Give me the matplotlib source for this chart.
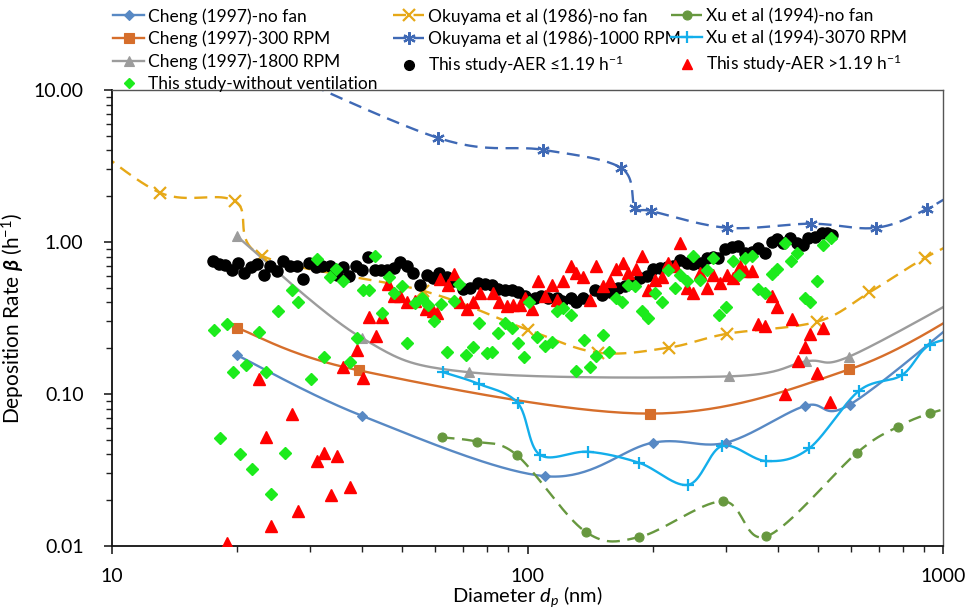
import numpy as np
import matplotlib
matplotlib.use("Agg")
import matplotlib.pyplot as plt
from matplotlib.lines import Line2D
from matplotlib.ticker import LogLocator, FuncFormatter, NullFormatter

FONT = "Lato"
plt.rcParams['font.family'] = [FONT, 'DejaVu Sans']
plt.rcParams['mathtext.fontset'] = 'custom'
plt.rcParams['mathtext.rm'] = FONT
plt.rcParams['mathtext.it'] = FONT + ':italic'
plt.rcParams['mathtext.bf'] = FONT + ':bold'
if 'mathtext.bfit' in plt.rcParams:
    plt.rcParams['mathtext.bfit'] = FONT + ':italic:bold'

# ---- literature curves (diameter nm, beta 1/h) ----
cheng_nf_d = [20, 39.9, 110, 200, 300, 466, 596, 1200]
cheng_nf_b = [0.18, 0.072, 0.0288, 0.0478, 0.0478, 0.0836, 0.085, 0.384]
cheng_300_d = [20, 39.3, 197, 594, 1200]
cheng_300_b = [0.272, 0.143, 0.0743, 0.145, 0.39]
cheng_1800_d = [20, 39.9, 72.4, 305, 468, 594, 1200]
cheng_1800_b = [1.087, 0.234, 0.139, 0.1306, 0.164, 0.176, 0.49]
oku_nf_d = [8, 13.05, 19.8, 23.0, 56.0, 100, 148, 219, 302, 498, 665, 905, 1200]
oku_nf_b = [5.5, 2.11, 1.85, 0.81, 0.478, 0.265, 0.187, 0.202, 0.249, 0.299, 0.466, 0.787, 1.15]
oku_1000_d = [20, 60.9, 109, 168, 181.5, 198, 302, 481, 690, 915, 1200]
oku_1000_b = [18, 4.84, 4.04, 3.07, 1.68, 1.60, 1.24, 1.32, 1.24, 1.65, 2.6]
xu_nf_d = [62.1, 75.5, 94.2, 138, 186, 295, 376, 621, 778, 930, 1200]
xu_nf_b = [0.0519, 0.0486, 0.0397, 0.0124, 0.01146, 0.0197, 0.01156, 0.0411, 0.0607, 0.0746, 0.09]
xu_3070_d = [62.7, 76.4, 94.8, 107, 140, 186, 244, 294, 376, 476, 628, 796, 931, 1200]
xu_3070_b = [0.139, 0.1164, 0.087, 0.0399, 0.0417, 0.0352, 0.0253, 0.0455, 0.0362, 0.0438, 0.105, 0.133, 0.211, 0.245]

# ---- this study (diameter nm, beta 1/h) ----
aer_low = [(17.5, 0.75), (18.1, 0.72), (18.7, 0.71), (19.4, 0.65), (20.1, 0.73), (20.8, 0.63),
           (21.6, 0.68), (22.3, 0.72), (23.2, 0.61), (24.0, 0.69), (24.9, 0.64), (25.8, 0.75),
           (26.8, 0.69), (27.9, 0.69), (28.8, 0.57), (29.8, 0.73), (31.0, 0.68), (32.0, 0.70),
           (33.5, 0.70), (34.8, 0.61), (36.0, 0.68), (37.2, 0.60), (38.6, 0.69), (40.0, 0.65),
           (41.3, 0.80), (43.0, 0.65), (44.4, 0.65), (45.9, 0.65), (47.7, 0.67), (49.3, 0.74),
           (51.3, 0.70), (53.0, 0.63), (55.1, 0.52), (57.3, 0.61), (59.3, 0.58), (61.3, 0.63),
           (64.0, 0.59), (66.2, 0.55), (70.0, 0.49), (72.7, 0.50), (76.1, 0.54), (79.1, 0.53),
           (82.2, 0.52), (85.0, 0.49), (88.3, 0.48), (91.8, 0.48), (94.9, 0.47), (98.6, 0.44),
           (104, 0.43), (108, 0.44), (112, 0.43), (118, 0.43), (121, 0.41), (127, 0.43),
           (131, 0.405), (136, 0.43), (145, 0.485), (151, 0.45), (158, 0.47), (165, 0.50),
           (172, 0.51), (178, 0.54), (187, 0.58), (194, 0.60), (201, 0.66), (208, 0.67),
           (217, 0.68), (224, 0.70), (233, 0.76), (242, 0.73), (250, 0.72), (260, 0.73),
           (270, 0.79), (279, 0.80), (287, 0.79), (299, 0.90), (310, 0.93), (321, 0.94),
           (334, 0.85), (347, 0.86), (359, 0.92), (373, 0.85), (388, 1.00), (398, 1.05),
           (412, 0.99), (428, 1.06), (445, 0.99), (461, 0.96), (473, 1.06), (492, 1.08),
           (512, 1.15), (526, 1.15), (541, 1.12)]
aer_high = [(18.9, 0.0104), (22.6, 0.126), (23.5, 0.052), (24.2, 0.0135), (27.1, 0.074),
            (28.1, 0.017), (31.1, 0.036), (32.4, 0.041), (33.6, 0.0215), (34.7, 0.039),
            (36.0, 0.15), (37.4, 0.0245), (38.9, 0.196), (40.2, 0.127), (41.5, 0.32),
            (43.2, 0.24), (44.7, 0.32), (46.1, 0.53), (47.7, 0.44), (49.3, 0.44), (51.3, 0.40),
            (53.6, 0.41), (57.0, 0.365), (59.3, 0.35), (60.5, 0.34), (61.5, 0.57), (64.4, 0.52),
            (66.5, 0.62), (68.8, 0.40), (71.5, 0.365), (74.0, 0.405), (76.9, 0.46), (82.6, 0.46),
            (85.4, 0.405), (89.3, 0.38), (92.3, 0.387), (95.9, 0.387), (98.6, 0.43),
            (102.5, 0.365), (106, 0.55), (110, 0.443), (114.5, 0.52), (118, 0.417), (122, 0.55),
            (127, 0.70), (131, 0.63), (136, 0.59), (141, 0.417), (146, 0.69), (152, 0.515),
            (158, 0.55), (163, 0.667), (170, 0.73), (175, 0.63), (182, 0.66), (189, 0.81),
            (195, 0.485), (203, 0.565), (211, 0.59), (218, 0.73), (226, 0.70), (233, 0.99),
            (242, 0.50), (250, 0.464), (260, 0.63), (270, 0.50), (279, 0.61), (290, 0.54),
            (302, 0.61), (312, 0.58), (325, 0.70), (334, 0.64), (347, 0.64), (359, 0.29),
            (373, 0.28), (388, 0.44), (398, 0.375), (417, 0.10), (432, 0.31), (448, 0.165),
            (465, 0.205), (479, 0.25), (497, 0.138), (514, 0.27), (535, 0.088)]
no_vent = [(17.6, 0.262), (18.2, 0.051), (18.9, 0.29), (19.5, 0.14), (20.3, 0.040), (21.0, 0.156),
           (21.7, 0.032), (22.6, 0.255), (23.5, 0.14), (24.2, 0.022), (25.1, 0.353), (26.1, 0.041),
           (27.1, 0.485), (28.1, 0.40), (30.1, 0.126), (31.1, 0.77), (32.4, 0.175), (33.5, 0.59),
           (34.6, 0.66), (36.0, 0.555), (37.4, 0.163), (38.9, 0.233), (40.2, 0.48), (41.6, 0.485),
           (43.0, 0.81), (44.7, 0.34), (46.5, 0.59), (47.7, 0.46), (49.9, 0.51), (51.3, 0.218),
           (53.6, 0.395), (55.7, 0.425), (57.5, 0.387), (59.6, 0.30), (61.9, 0.39), (64.0, 0.19),
           (66.5, 0.41), (68.4, 0.53), (71.1, 0.18), (74.0, 0.205), (76.4, 0.295), (80.0, 0.187),
           (82.2, 0.19), (85.0, 0.253), (88.3, 0.295), (91.8, 0.27), (94.9, 0.216), (98.2, 0.175),
           (101, 0.40), (105.5, 0.237), (110, 0.208), (114.5, 0.22), (118, 0.35), (122, 0.37),
           (127, 0.33), (131, 0.141), (137, 0.226), (141, 0.15), (146, 0.177), (152, 0.246),
           (157, 0.19), (163, 0.43), (169, 0.40), (175, 0.525), (181, 0.51), (189, 0.35),
           (195, 0.318), (203, 0.464), (211, 0.40), (218, 0.65), (226, 0.50), (233, 0.61),
           (242, 0.55), (250, 0.81), (260, 0.565), (270, 0.655), (279, 0.78), (289, 0.33),
           (301, 0.375), (312, 0.75), (323, 0.61), (334, 0.78), (347, 0.81), (359, 0.49),
           (373, 0.464), (388, 0.62), (398, 0.667), (417, 0.99), (430, 0.75), (445, 0.85),
           (465, 0.43), (479, 0.40), (497, 0.55), (514, 0.96), (537, 1.06)]

dash = (0, (5.5, 3.2))
# label, d, b, color, marker, markersize, linestyle
curves = [
    ("Cheng (1997)-no fan", cheng_nf_d, cheng_nf_b, "#5889C4", "D", 5.5, "-"),
    ("Okuyama et al (1986)-no fan", oku_nf_d, oku_nf_b, "#E6A817", "x", 8, dash),
    ("Xu et al (1994)-no fan", xu_nf_d, xu_nf_b, "#67983F", "o", 6.5, dash),
    ("Cheng (1997)-300 RPM", cheng_300_d, cheng_300_b, "#D66E2B", "s", 7, "-"),
    ("Okuyama et al (1986)-1000 RPM", oku_1000_d, oku_1000_b, "#3F69B5", (6, 2, 0), 9, dash),
    ("Xu et al (1994)-3070 RPM", xu_3070_d, xu_3070_b, "#13AEEB", "+", 9, "-"),
    ("Cheng (1997)-1800 RPM", cheng_1800_d, cheng_1800_b, "#9C9C9C", "^", 7.5, "-"),
]


def smooth(d, b, n=40):
    # Excel style smoothed line: cubic Bezier through points, in log-log space
    p = np.column_stack([np.log10(d), np.log10(b)])
    out = [p[0]]
    t = np.linspace(0, 1, n)[1:, None]
    for i in range(len(p) - 1):
        p0 = p[i - 1] if i > 0 else p[i]
        p3 = p[i + 2] if i + 2 < len(p) else p[i + 1]
        c1 = p[i] + (p[i + 1] - p0) / 6
        c2 = p[i + 1] - (p3 - p[i]) / 6
        seg = (1 - t)**3 * p[i] + 3 * (1 - t)**2 * t * c1 + 3 * (1 - t) * t**2 * c2 + t**3 * p[i + 1]
        out.extend(seg)
    out = np.array(out)
    return 10**out[:, 0], 10**out[:, 1]


fig = plt.figure(figsize=(9.67, 6.10), dpi=100)
ax = fig.add_axes([112 / 967, 1 - 546 / 610, 831 / 967, 456 / 610])

handles = {}
for label, d, b, col, mk, ms, ls in curves:
    xs, ys = smooth(d, b)
    ax.plot(xs, ys, color=col, lw=1.7, ls=ls, zorder=2)
    mew = 1.6 if mk in ("x", "+") or isinstance(mk, tuple) else 0.8
    ax.plot(d, b, ls="none", marker=mk, ms=ms, color=col, mec=col, mew=mew, zorder=3)
    handles[label] = Line2D([], [], color=col, lw=1.7, ls=ls, marker=mk, ms=ms, mec=col, mew=mew)

lo_d, lo_b = zip(*aer_low)
hi_d, hi_b = zip(*aer_high)
nv_d, nv_b = zip(*no_vent)
ax.plot(lo_d, lo_b, ls="none", marker="o", ms=8, color="black", zorder=4)
ax.plot(hi_d, hi_b, ls="none", marker="^", ms=8, color="#FF0000", zorder=5)
ax.plot(nv_d, nv_b, ls="none", marker="D", ms=6.3, color="#1CEB1C", zorder=6)
lab_lo = "This study-AER \u22641.19 h$^{-1}$"
lab_hi = "This study-AER >1.19 h$^{-1}$"
lab_nv = "This study-without ventilation"
handles[lab_lo] = Line2D([], [], ls="none", marker="o", ms=7, color="black")
handles[lab_hi] = Line2D([], [], ls="none", marker="^", ms=7, color="#FF0000")
handles[lab_nv] = Line2D([], [], ls="none", marker="D", ms=5.5, color="#1CEB1C")

ax.set_xscale("log")
ax.set_yscale("log")
ax.set_xlim(10, 1000)
ax.set_ylim(0.01, 10)
ax.xaxis.set_major_formatter(FuncFormatter(lambda v, _: "%d" % round(v)))
ax.yaxis.set_major_formatter(FuncFormatter(lambda v, _: "%.2f" % v))
ax.xaxis.set_minor_locator(LogLocator(base=10, subs=np.arange(2, 10)))
ax.yaxis.set_minor_locator(LogLocator(base=10, subs=np.arange(2, 10)))
ax.xaxis.set_minor_formatter(NullFormatter())
ax.yaxis.set_minor_formatter(NullFormatter())
ax.tick_params(which="major", direction="out", length=6, width=1.2, labelsize=14, color="#222222")
ax.tick_params(which="minor", direction="out", length=4, width=1.0, color="#222222")
ax.tick_params(axis="x", which="both", pad=10)
ax.tick_params(axis="y", which="major", pad=14.5)
for side in ("left", "bottom"):
    ax.spines[side].set_color("#111111")
    ax.spines[side].set_linewidth(1.3)
for side in ("top", "right"):
    ax.spines[side].set_color("#555555")
    ax.spines[side].set_linewidth(1.0)

ax.set_xlabel("Diameter $d_p$ (nm)", fontsize=14.5, labelpad=-1)
ax.set_ylabel("Deposition Rate $\\mathbfit{\\beta}$ (h$^{-1}$)", fontsize=15, labelpad=5)

columns = [
    (113, ["Cheng (1997)-no fan", "Cheng (1997)-300 RPM", "Cheng (1997)-1800 RPM", lab_nv]),
    (393, ["Okuyama et al (1986)-no fan", "Okuyama et al (1986)-1000 RPM", lab_lo]),
    (671, ["Xu et al (1994)-no fan", "Xu et al (1994)-3070 RPM", lab_hi]),
]
for x0, labs in columns:
    leg = fig.legend([handles[k] for k in labs], labs, loc="upper left",
                     bbox_to_anchor=(x0 / 967, 1 - 8 / 610), frameon=False,
                     fontsize=12.5, handlelength=1.8, handletextpad=0.2,
                     labelspacing=0.36, borderpad=0, borderaxespad=0)

try:
    fig.savefig("out.png", dpi=100)
except Exception:
    ax.set_ylabel("Deposition Rate $\\beta$ (h$^{-1}$)", fontsize=15, labelpad=5)
    fig.savefig("out.png", dpi=100)
